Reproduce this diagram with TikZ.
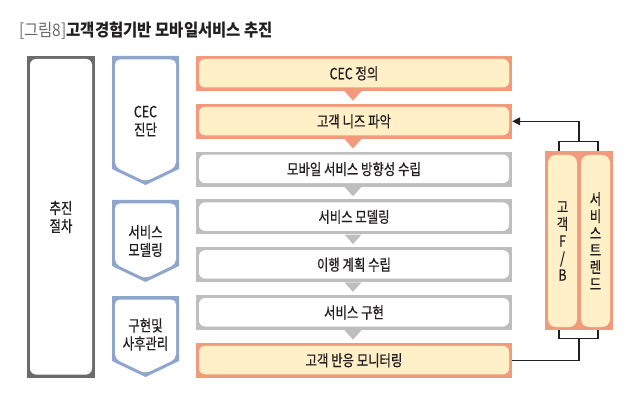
\documentclass[tikz,border=0pt]{standalone}
\usepackage{fontspec}
\setmainfont{Noto Sans CJK KR}[FakeStretch=0.8, FakeBold=0.6]
\newfontfamily\titlefont{Noto Sans CJK KR}[FakeStretch=0.9]
\usetikzlibrary{arrows.meta}
\definecolor{orb}{HTML}{F29B7C}
\definecolor{orf}{HTML}{FFF0C8}
\definecolor{grb}{HTML}{BEBEC0}
\definecolor{blb}{HTML}{8FA6CB}
\definecolor{dkg}{HTML}{6B6B6B}
\definecolor{txt}{HTML}{231F20}
\begin{document}
\begin{tikzpicture}[x=1pt,y=-1pt,
  boxtext/.style={font=\fontsize{15.5}{18}\selectfont, text=txt, align=center},
  framed/.style n args={4}{rectangle, inner sep=0, minimum width=#3, minimum height=#4, fill=#1,
    path picture={\fill[#2, rounded corners=6pt] ([shift={(3pt,3.5pt)}]path picture bounding box.south west) rectangle ([shift={(-3pt,-3pt)}]path picture bounding box.north east);}, boxtext},
  stepbox/.style 2 args={framed={#1}{#2}{316pt}{35pt}},
  tri/.style={fill=#1},
  conn/.style={draw=txt, line width=1.1pt},
  column/.style={fill=orf, rounded corners=8pt, minimum width=29pt, minimum height=172pt, inner sep=0, boxtext, font=\fontsize{15.5}{17}\selectfont}
]
\useasboundingbox (0,0) rectangle (640,406);

% title
\node[anchor=west, inner sep=0, font=\titlefont\fontsize{17.2}{20}\selectfont] (title) at (19,31)
  {\textcolor{dkg}{[그림8]}\textcolor{txt}{\textbf{고객경험기반 모바일서비스 추진}}};

% left frame
\node[framed={dkg}{white}{68pt}{322pt}] (proc) at (61,217) {추진\\절차};

% phase pentagons
\fill[blb] (112,56) -- (179,56) -- (179,169) -- (145.5,185) -- (112,169) -- cycle;
\fill[white, rounded corners=5pt] (115,59.5) -- (176,59.5) -- (176,167) -- (145.5,181.5) -- (115,167) -- cycle;
\node[boxtext] (ph1) at (145.5,121) {CEC\\진단};

\fill[blb] (112,200) -- (179,200) -- (179,266) -- (145.5,282) -- (112,266) -- cycle;
\fill[white, rounded corners=5pt] (115,203.5) -- (176,203.5) -- (176,264) -- (145.5,278.5) -- (115,264) -- cycle;
\node[boxtext] (ph2) at (145.5,241) {서비스\\모델링};

\fill[blb] (112,296) -- (179,296) -- (179,361) -- (145.5,377) -- (112,361) -- cycle;
\fill[white, rounded corners=5pt] (115,299.5) -- (176,299.5) -- (176,359) -- (145.5,373.5) -- (115,359) -- cycle;
\node[boxtext] (ph3) at (145.5,334.5) {구현및\\사후관리};

% steps
\node[stepbox={orb}{orf}] (s1) at (354,73.5) {CEC 정의};
\node[stepbox={orb}{orf}] (s2) at (354,121.3) {고객 니즈 파악};
\node[stepbox={grb}{white}] (s3) at (354,169.1) {모바일 서비스 방향성 수립};
\node[stepbox={grb}{white}] (s4) at (354,216.9) {서비스 모델링};
\node[stepbox={grb}{white}] (s5) at (354,264.7) {이행 계획 수립};
\node[stepbox={grb}{white}] (s6) at (354,312.5) {서비스 구현};
\node[stepbox={orb}{orf}] (s7) at (354,360.3) {고객 반응 모니터링};

% triangles
\foreach \n/\c in {s1/orb,s2/orb,s3/grb,s4/grb,s5/grb,s6/grb}{
  \fill[tri=\c] ([xshift=-9.5pt]\n.south) -- ([xshift=7.5pt]\n.south) -- ([xshift=-1pt,yshift=-9.5pt]\n.south) -- cycle;
}

% right box
\node[fill=orb, minimum width=68pt, minimum height=179pt, inner sep=0] (rbox) at (579,240.5) {};
\node[column] (fb) at (562.5,241) {고\\객\\F\\/\\B};
\node[column] (tr) at (595.5,241) {서\\비\\스\\트\\렌\\드};

% connectors
\draw[conn] ([xshift=-20pt]rbox.north) -- ([xshift=-20pt,yshift=9pt]rbox.north) -- ([xshift=19pt,yshift=9pt]rbox.north) -- ([xshift=19pt]rbox.north);
\draw[conn, -{Triangle[length=8pt,width=8pt]}] ([yshift=9pt]rbox.north) |- (s2.east);
\draw[conn] ([xshift=-20pt]rbox.south) -- ([xshift=-20pt,yshift=-8pt]rbox.south) -- ([xshift=19pt,yshift=-8pt]rbox.south) -- ([xshift=19pt]rbox.south);
\draw[conn] ([yshift=-8pt]rbox.south) |- (s7.east);
\end{tikzpicture}
\end{document}
